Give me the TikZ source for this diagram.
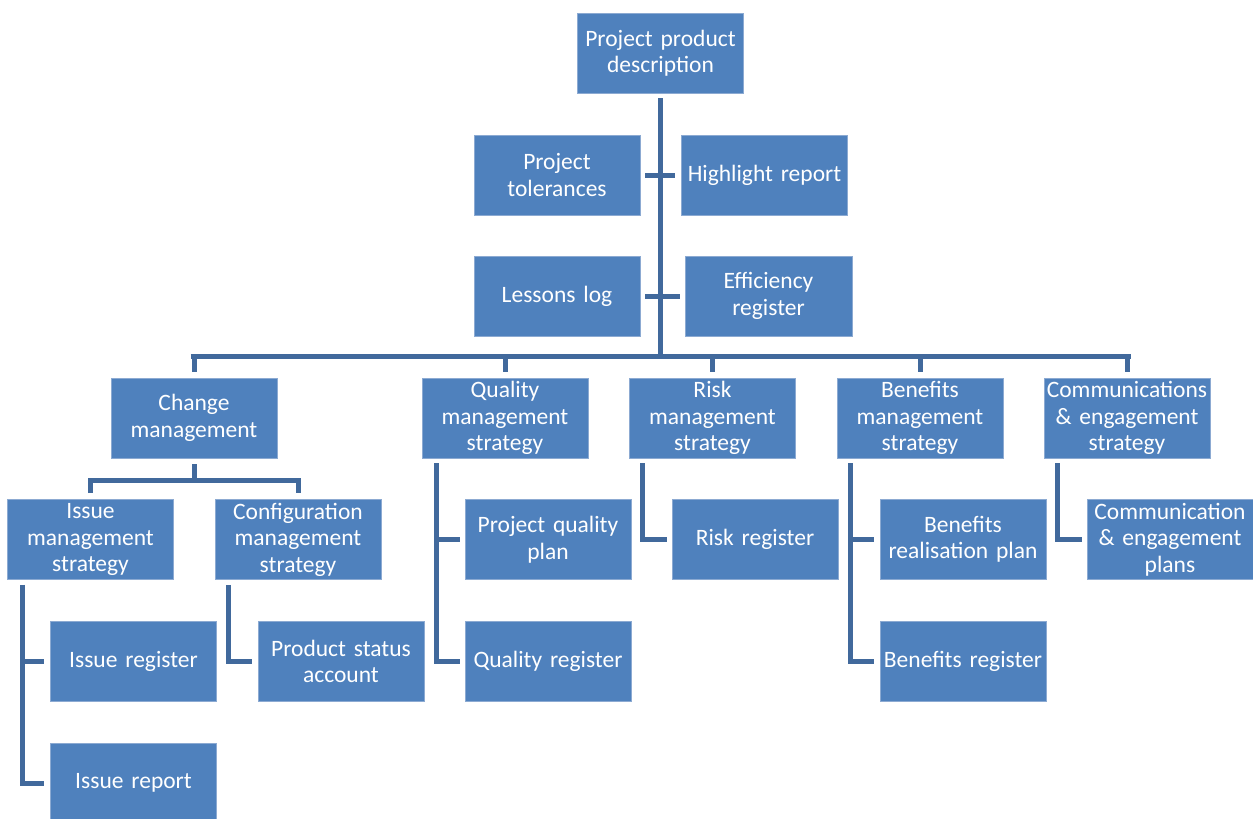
\documentclass[tikz,border=0pt]{standalone}
\usepackage{fontspec}
\setmainfont{Carlito}
\definecolor{boxblue}{HTML}{4F81BD}
\definecolor{boxedge}{HTML}{8CAAD2}
\definecolor{linkblue}{HTML}{41699C}
\begin{document}
\begin{tikzpicture}[x=1pt,y=-1pt,
  box/.style={rectangle, fill=boxblue, draw=boxedge, line width=0.8pt,
    minimum width=166pt, minimum height=80pt, inner sep=0pt,
    text width=166pt, align=center, text=white,
    font=\fontsize{23.5}{26.5}\selectfont},
  conn/.style={draw=linkblue, line width=5pt}]
\useasboundingbox (0,0) rectangle (1253,819);
% top
\node[box, minimum width=165pt] (ppd) at (660.5,53) {Project product\\description};
\node[box] (tol) at (557,175) {Project\\tolerances};
\node[box, minimum width=165pt] (hl) at (764.5,175) {Highlight report};
\node[box] (les) at (557,296) {Lessons log};
\node[box, minimum width=167pt] (eff) at (768.5,296) {Efficiency\\register};
% level 2
\node[box] (cm) at (194,418) {Change\\management};
\node[box] (qm) at (505,418) {Quality\\management\\strategy};
\node[box] (rm) at (712.5,418) {Risk\\management\\strategy};
\node[box] (bm) at (920,418) {Benefits\\management\\strategy};
\node[box] (ce) at (1127,418) {Communications\\\&~engagement\\strategy};
% level 3
\node[box] (ims) at (90.5,539.5) {Issue\\management\\strategy};
\node[box] (cfg) at (298,539.5) {Configuration\\management\\strategy};
\node[box] (pqp) at (548,539.5) {Project quality\\plan};
\node[box] (rr) at (755,539.5) {Risk register};
\node[box] (brp) at (963,539.5) {Benefits\\realisation plan};
\node[box] (cep) at (1170,539.5) {Communication\\\&~engagement\\plans};
% level 4
\node[box] (ir) at (133.5,661.5) {Issue register};
\node[box] (psa) at (341,661.5) {Product status\\account};
\node[box] (qr) at (548,661.5) {Quality register};
\node[box] (br) at (963,661.5) {Benefits register};
\node[box] (irp) at (133.5,783) {Issue report};
% connectors
\coordinate (busL) at (193,356);
\coordinate (busR) at (1128,356);
\draw[conn] ([yshift=-5pt]ppd.south) -- (ppd.south |- busL);
\draw[conn] ([xshift=-2.5pt]busL) -- ([xshift=2.5pt]busR);
\foreach \n in {cm,qm,rm,bm,ce}
  \draw[conn] (\n.north |- busL) -- ([yshift=6pt]\n.north);
\draw[conn] ([xshift=5pt]tol.east) -- ([xshift=-6pt]hl.west);
\draw[conn] ([xshift=5pt]les.east) -- ([xshift=-5pt]eff.west);
\coordinate (cmbus) at (194,480);
\draw[conn] ([yshift=-6pt]cm.south) -- (cm.south |- cmbus);
\draw[conn] ([yshift=6pt]ims.north) |- (cmbus) -| ([yshift=6pt]cfg.north);
\draw[conn] ([xshift=15pt,yshift=-5pt]ims.south west) |- ([xshift=-6pt]ir.west);
\draw[conn] ([xshift=15pt,yshift=-5pt]ims.south west) |- ([xshift=-6pt]irp.west);
\draw[conn] ([xshift=14pt,yshift=-5pt]cfg.south west) |- ([xshift=-6pt]psa.west);
\draw[conn] ([xshift=15pt,yshift=-5pt]qm.south west) |- ([xshift=-5pt]pqp.west);
\draw[conn] ([xshift=15pt,yshift=-5pt]qm.south west) |- ([xshift=-5pt]qr.west);
\draw[conn] ([xshift=13pt,yshift=-5pt]rm.south west) |- ([xshift=-5pt]rr.west);
\draw[conn] ([xshift=14pt,yshift=-5pt]bm.south west) |- ([xshift=-6pt]brp.west);
\draw[conn] ([xshift=14pt,yshift=-5pt]bm.south west) |- ([xshift=-6pt]br.west);
\draw[conn] ([xshift=14pt,yshift=-5pt]ce.south west) |- ([xshift=-5pt]cep.west);
\end{tikzpicture}
\end{document}
